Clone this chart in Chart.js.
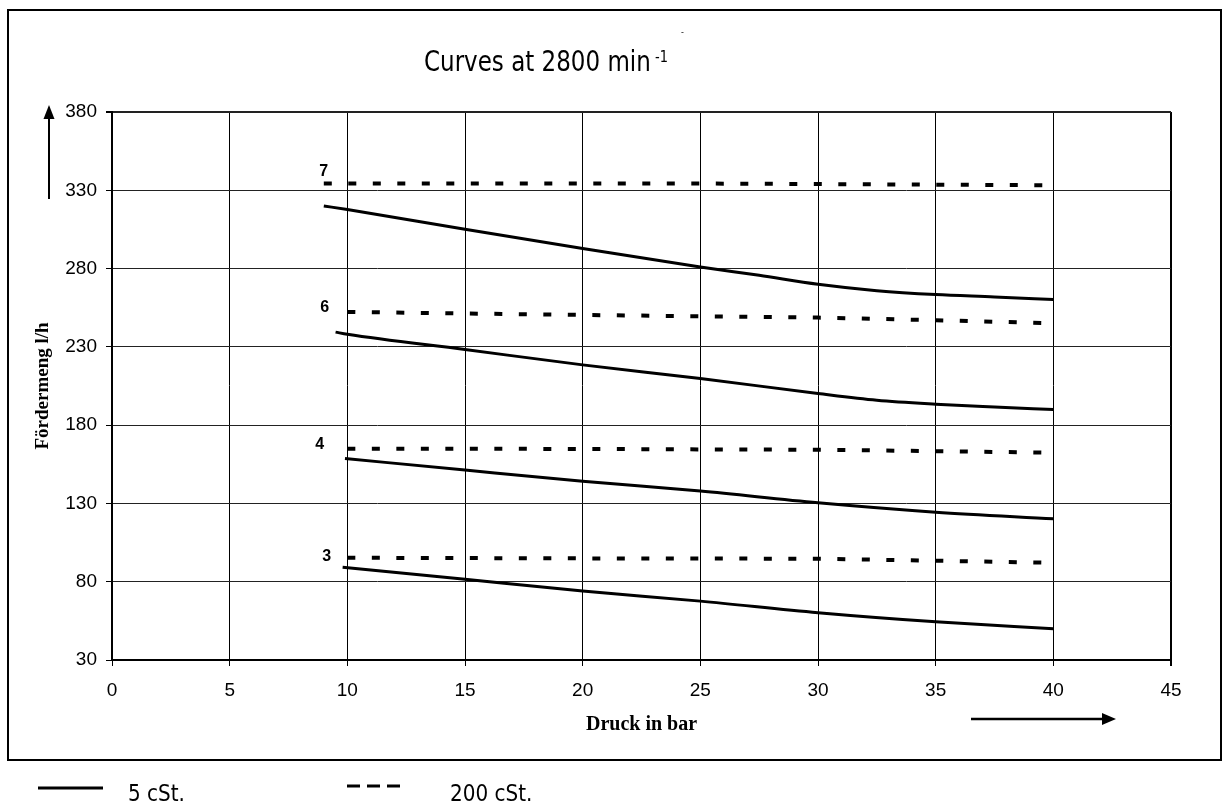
<!DOCTYPE html>
<html>
<head>
<meta charset="utf-8">
<script src="https://cdn.jsdelivr.net/npm/chart.js@4"></script>
<style>
  html, body { margin: 0; padding: 0; background: #fff; }
  #wrap { width: 1224px; height: 807px; }
</style>
</head>
<body>
<div id="wrap"><canvas id="c" width="1224" height="807"></canvas></div>
<script>
// ---- data ----
const solid7X  = [9, 10, 15, 20, 25, 27.5, 30, 32.5, 35, 37.5, 40];
const solid7Y  = [320, 317.7, 305.1, 292.8, 281, 275.7, 270, 265.9, 263.4, 261.9, 260.2];
const dashed7X = [9, 15, 20, 25, 30, 35, 40];
const dashed7Y = [334.3, 334.3, 334.3, 334.3, 334.0, 333.6, 333.2];

const solid6X  = [9.5, 10, 15, 20, 25, 30, 32.5, 35, 37.5, 40];
const solid6Y  = [239.4, 238, 228.3, 218.5, 209.8, 200.2, 195.9, 193.4, 191.6, 190];
const dashed6X = [10, 15, 20, 25, 30, 35, 40];
const dashed6Y = [252.3, 251.3, 250.4, 249.5, 248.7, 247, 245.1];

const solid4X  = [9.9, 15, 20, 25, 30, 35, 40];
const solid4Y  = [158.7, 151.3, 144.2, 137.9, 130.4, 124.4, 120.2];
const dashed4X = [10, 15, 20, 25, 30, 35, 40];
const dashed4Y = [164.9, 164.9, 164.8, 164.5, 164.3, 163.4, 162.4];

const solid3X  = [9.8, 15, 20, 25, 30, 35, 40];
const solid3Y  = [89.3, 81.5, 74, 67.6, 60.2, 54.4, 50];
const dashed3X = [10, 15, 20, 25, 30, 35, 40];
const dashed3Y = [95.3, 95.1, 94.9, 94.8, 94.7, 93.4, 92.1];

const curveNames   = ['7', '6', '4', '3'];
const legendLabels = ['5 cSt.', '200 cSt.'];
const xMin = 0, xMax = 45, xStep = 5;
const yMin = 30, yMax = 380, yStep = 50;
const titleMain = 'Curves at 2800 min';
const titleSup  = '-1';
const xTitle = 'Druck in bar';
const yTitle = 'Fördermeng l/h';

// ---- build datasets ----
function pts(xs, ys) { return xs.map((x, i) => ({ x: x, y: ys[i] })); }
const SOLID = { borderColor: '#000', borderWidth: 3, pointRadius: 0, fill: false, cubicInterpolationMode: 'monotone' };
const DASH  = { borderColor: '#000', borderWidth: 4, pointRadius: 0, fill: false, borderDash: [8, 16.5], borderCapStyle: 'butt' };

const datasets = [
  Object.assign({ label: '5 cSt. ' + curveNames[0], data: pts(solid7X, solid7Y) }, SOLID),
  Object.assign({ label: '200 cSt. ' + curveNames[0], data: pts(dashed7X, dashed7Y) }, DASH),
  Object.assign({ label: '5 cSt. ' + curveNames[1], data: pts(solid6X, solid6Y) }, SOLID),
  Object.assign({ label: '200 cSt. ' + curveNames[1], data: pts(dashed6X, dashed6Y) }, DASH),
  Object.assign({ label: '5 cSt. ' + curveNames[2], data: pts(solid4X, solid4Y) }, SOLID),
  Object.assign({ label: '200 cSt. ' + curveNames[2], data: pts(dashed4X, dashed4Y) }, DASH),
  Object.assign({ label: '5 cSt. ' + curveNames[3], data: pts(solid3X, solid3Y) }, SOLID),
  Object.assign({ label: '200 cSt. ' + curveNames[3], data: pts(dashed3X, dashed3Y) }, DASH)
];

// ---- decorations: frame, title, arrows, curve numbers, legend ----
const decor = {
  id: 'decor',
  beforeDraw(chart) {
    const ctx = chart.ctx;
    ctx.save();
    ctx.fillStyle = '#fff';
    ctx.fillRect(0, 0, chart.width, chart.height);
    ctx.restore();
  },
  afterDraw(chart) {
    const ctx = chart.ctx;
    const xs = chart.scales.x, ys = chart.scales.y;
    ctx.save();
    ctx.fillStyle = '#000';
    ctx.strokeStyle = '#000';

    // outer frame
    ctx.lineWidth = 2;
    ctx.strokeRect(8, 10, 1213, 750);

    // title
    ctx.textAlign = 'left';
    ctx.textBaseline = 'alphabetic';
    ctx.save();
    ctx.translate(424, 70.5);
    ctx.scale(1, 1.2);
    ctx.font = '23px "DejaVu Sans"';
    ctx.fillText(titleMain, 0, 0);
    ctx.restore();
    ctx.save();
    ctx.translate(655, 62);
    ctx.scale(1, 1.15);
    ctx.font = '13px "DejaVu Sans"';
    ctx.fillText(titleSup, 0, 0);
    ctx.restore();
    ctx.font = '8px "DejaVu Sans"';
    ctx.fillText('-', 681, 35);

    // y arrow
    ctx.lineWidth = 2;
    ctx.beginPath(); ctx.moveTo(49, 199); ctx.lineTo(49, 116); ctx.stroke();
    ctx.beginPath(); ctx.moveTo(49, 105); ctx.lineTo(54.5, 119); ctx.lineTo(43.5, 119); ctx.closePath(); ctx.fill();
    // x arrow
    ctx.lineWidth = 2.3;
    ctx.beginPath(); ctx.moveTo(971, 719); ctx.lineTo(1105, 719); ctx.stroke();
    ctx.beginPath(); ctx.moveTo(1116, 719); ctx.lineTo(1102, 713); ctx.lineTo(1102, 725); ctx.closePath(); ctx.fill();

    // curve numbers, anchored on each dashed curve's first point
    const dashedIdx = [1, 3, 5, 7];
    const dx = [0, 1, -4, 3];
    const dy = [-11.6, -4.7, -4.3, -1.6];
    ctx.font = 'bold 16px "Liberation Sans", Arial, sans-serif';
    ctx.textAlign = 'center';
    ctx.textBaseline = 'middle';
    dashedIdx.forEach((di, k) => {
      const first = chart.data.datasets[di].data[0];
      const px = xs.getPixelForValue(9) + dx[k];
      const py = ys.getPixelForValue(first.y) + dy[k];
      ctx.fillText(curveNames[k], px, py);
    });

    // legend
    const dsS = chart.data.datasets[0], dsD = chart.data.datasets[1];
    ctx.lineWidth = dsS.borderWidth;
    ctx.setLineDash([]);
    ctx.beginPath(); ctx.moveTo(38, 788); ctx.lineTo(103, 788); ctx.stroke();
    ctx.lineWidth = 3;
    ctx.setLineDash([13, 7]);
    ctx.beginPath(); ctx.moveTo(347, 786); ctx.lineTo(404, 786); ctx.stroke();
    ctx.setLineDash([]);
    ctx.textAlign = 'left';
    ctx.textBaseline = 'alphabetic';
    ctx.save(); ctx.translate(128, 801); ctx.scale(1, 1.15);
    ctx.font = '20px "DejaVu Sans"'; ctx.fillText(legendLabels[0], 0, 0); ctx.restore();
    ctx.save(); ctx.translate(450, 801); ctx.scale(1, 1.15);
    ctx.font = '20px "DejaVu Sans"'; ctx.fillText(legendLabels[1], 0, 0); ctx.restore();

    ctx.restore();
  }
};

new Chart(document.getElementById('c'), {
  type: 'line',
  data: { datasets: datasets },
  plugins: [decor],
  options: {
    responsive: false,
    animation: false,
    events: [],
    layout: { padding: { left: 0, top: 112, right: 53, bottom: 0 } },
    plugins: { legend: { display: false }, tooltip: { enabled: false }, title: { display: false } },
    scales: {
      x: {
        type: 'linear',
        min: xMin, max: xMax,
        afterFit(s) { s.height = 147; },
        ticks: { stepSize: xStep, color: '#000', padding: 13,
                 font: { family: '"Liberation Sans", Arial, sans-serif', size: 19 } },
        grid: { color: '#000', tickColor: '#000', tickLength: 6,
                lineWidth: c => (c.tick && c.tick.value === xMax ? 2 : 1) },
        border: { display: true, color: '#000', width: 2 },
        title: { display: true, text: xTitle, color: '#000',
                 font: { family: '"Liberation Serif", "Times New Roman", serif', size: 20, weight: 'bold' },
                 padding: { top: 0, bottom: 70 } }
      },
      y: {
        type: 'linear',
        min: yMin, max: yMax,
        afterFit(s) { s.width = 112; },
        ticks: { stepSize: yStep, color: '#000', padding: 9,
                 font: { family: '"Liberation Sans", Arial, sans-serif', size: 19 } },
        grid: { color: '#222', tickColor: '#000', tickLength: 6,
                lineWidth: c => (c.tick && c.tick.value === yMax ? 2 : 1) },
        border: { display: true, color: '#000', width: 2 },
        title: { display: true, text: yTitle, color: '#000',
                 font: { family: '"Liberation Serif", "Times New Roman", serif', size: 19, weight: 'bold' },
                 padding: { top: 31.6, bottom: 0 } }
      }
    }
  }
});
</script>
</body>
</html>
